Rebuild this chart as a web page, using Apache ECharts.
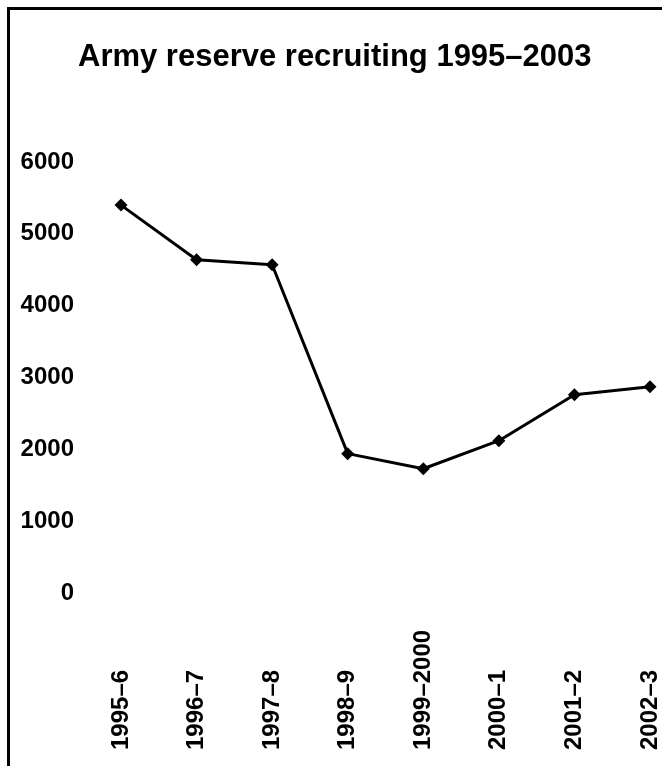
<!DOCTYPE html>
<html>
<head>
<meta charset="utf-8">
<script src="https://cdn.jsdelivr.net/npm/echarts@6/dist/echarts.min.js"></script>
<style>
  html, body { margin: 0; padding: 0; background: #fff; }
  #chart { width: 662px; height: 766px; }
</style>
</head>
<body>
<div id="chart"></div>
<script>
// recruits per year
var years = ['1995–6', '1996–7', '1997–8', '1998–9', '1999–2000', '2000–1', '2001–2', '2002–3'];
var recruits = [5400, 4640, 4570, 1940, 1730, 2120, 2760, 2870];

var font = '"Liberation Sans", Arial, sans-serif';

var chart = echarts.init(document.getElementById('chart'));
chart.setOption({
  animation: false,
  backgroundColor: '#fff',
  title: {
    text: 'Army reserve recruiting 1995–2003',
    left: 78,
    top: 42,
    padding: 0,
    textStyle: { fontFamily: font, fontSize: 31, fontWeight: 'bold', color: '#000' }
  },
  graphic: [{
    type: 'rect',
    shape: { x: 8.5, y: 8.5, width: 700, height: 800 },
    style: { fill: 'none', stroke: '#000', lineWidth: 3 },
    silent: true
  }],
  grid: { left: 121, right: 10, top: 162, bottom: 173 },
  xAxis: {
    type: 'category',
    data: years,
    boundaryGap: false,
    axisLine: { show: false },
    axisTick: { show: false },
    axisLabel: {
      rotate: 90,
      align: 'left',
      margin: 157,
      fontFamily: font,
      fontSize: 24,
      fontWeight: 'bold',
      color: '#000'
    }
  },
  yAxis: {
    type: 'value',
    min: 0,
    max: 6000,
    interval: 1000,
    splitLine: { show: false },
    axisLine: { show: false },
    axisTick: { show: false },
    axisLabel: {
      margin: 47,
      formatter: function (v) { return String(v); },
      fontFamily: font,
      fontSize: 24,
      fontWeight: 'bold',
      color: '#000'
    }
  },
  series: [{
    type: 'line',
    data: recruits,
    symbol: 'diamond',
    symbolSize: 13,
    lineStyle: { color: '#000', width: 3 },
    itemStyle: { color: '#000' }
  }]
});
</script>
</body>
</html>
